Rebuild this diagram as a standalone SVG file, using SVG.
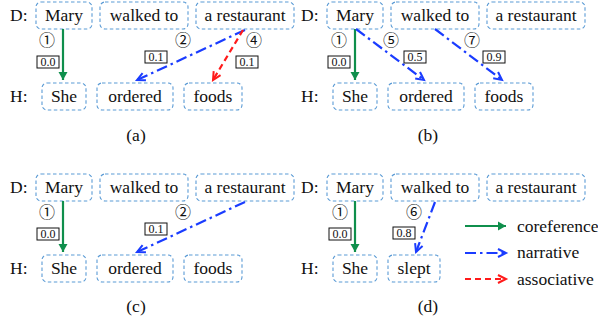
<svg xmlns="http://www.w3.org/2000/svg" width="598" height="326" viewBox="0 0 598 326">
<style>
.bx{fill:none;stroke:#5b9bd5;stroke-width:1.1;stroke-dasharray:3.5 2.5}
.t,.rl,.lg,.cap,.st{font-family:'Liberation Serif','DejaVu Serif','Times New Roman',serif;fill:#111}
.t{font-size:17.5px;text-anchor:middle}
.rl{font-size:17.5px}
.lg{font-size:17.5px}
.cap{font-size:17.5px;text-anchor:middle}
.sb{fill:#fff;stroke:#111;stroke-width:1}
.st{font-size:12px;text-anchor:middle}
.cn{font-family:'Noto Sans CJK SC','DejaVu Sans',sans-serif;font-size:16px;fill:#111;text-anchor:middle}
.co{fill:none;stroke:#0f8f4c;stroke-width:2.2}
.na{fill:none;stroke:#1a3cff;stroke-width:2.2;stroke-dasharray:11 4 2.5 4}
.as{fill:none;stroke:#ff1a1a;stroke-width:2.2;stroke-dasharray:6 4}
</style>
<defs>
<marker id="mg" markerUnits="userSpaceOnUse" markerWidth="10" markerHeight="10" refX="8" refY="4.5" orient="auto" overflow="visible">
<path d="M0,0 L8,4.5 L0,9 z" fill="#0f8f4c"/>
</marker>
<marker id="mb" markerUnits="userSpaceOnUse" markerWidth="10" markerHeight="10" refX="8" refY="4" orient="auto" overflow="visible">
<path d="M0,0 L8,4 L0,8" fill="none" stroke="#1a3cff" stroke-width="2"/>
</marker>
<marker id="mr" markerUnits="userSpaceOnUse" markerWidth="10" markerHeight="10" refX="8" refY="4" orient="auto" overflow="visible">
<path d="M0,0 L8,4 L0,8" fill="none" stroke="#ff1a1a" stroke-width="2"/>
</marker>
</defs>

<!-- Panel (a) -->
<g id="a-rowlabels"><text class="rl" x="10" y="21">D:</text><text class="rl" x="10" y="102">H:</text></g>
<g id="a-mary"><rect class="bx" x="36" y="2" width="56" height="27" rx="5"/><text class="t" x="64" y="21">Mary</text></g>
<g id="a-walked"><rect class="bx" x="100" y="2" width="88" height="27" rx="5"/><text class="t" x="144" y="21">walked to</text></g>
<g id="a-restaurant"><rect class="bx" x="196" y="2" width="98" height="27" rx="5"/><text class="t" x="245" y="21">a restaurant</text></g>
<g id="a-she"><rect class="bx" x="42" y="83" width="44" height="27" rx="5"/><text class="t" x="64" y="102">She</text></g>
<g id="a-ordered"><rect class="bx" x="97" y="83" width="76" height="27" rx="5"/><text class="t" x="135" y="102">ordered</text></g>
<g id="a-foods"><rect class="bx" x="184" y="83" width="58" height="27" rx="5"/><text class="t" x="213" y="102">foods</text></g>
<g id="a-connectors">
<line class="co" x1="63" y1="29" x2="63" y2="80" marker-end="url(#mg)"/>
<line class="na" x1="245" y1="30" x2="137" y2="80" marker-end="url(#mb)"/>
<line class="as" x1="243" y1="30" x2="213" y2="80" marker-end="url(#mr)"/>
</g>
<g id="a-labels">
<text class="cn" x="47" y="46">①</text>
<text class="cn" x="183" y="46">②</text>
<text class="cn" x="254" y="46">④</text>
<rect class="sb" x="37" y="56" width="22" height="12"/><text class="st" x="48" y="66">0.0</text>
<rect class="sb" x="145" y="51" width="22" height="12"/><text class="st" x="156" y="61">0.1</text>
<rect class="sb" x="236" y="56" width="22" height="12"/><text class="st" x="247" y="66">0.1</text>
</g>
<text class="cap" x="136" y="141">(a)</text>

<!-- Panel (b) -->
<g id="b-rowlabels"><text class="rl" x="301" y="21">D:</text><text class="rl" x="301" y="102">H:</text></g>
<g id="b-mary"><rect class="bx" x="327" y="2" width="56" height="27" rx="5"/><text class="t" x="355" y="21">Mary</text></g>
<g id="b-walked"><rect class="bx" x="391" y="2" width="88" height="27" rx="5"/><text class="t" x="435" y="21">walked to</text></g>
<g id="b-restaurant"><rect class="bx" x="487" y="2" width="98" height="27" rx="5"/><text class="t" x="536" y="21">a restaurant</text></g>
<g id="b-she"><rect class="bx" x="333" y="83" width="44" height="27" rx="5"/><text class="t" x="355" y="102">She</text></g>
<g id="b-ordered"><rect class="bx" x="388" y="83" width="76" height="27" rx="5"/><text class="t" x="426" y="102">ordered</text></g>
<g id="b-foods"><rect class="bx" x="475" y="83" width="58" height="27" rx="5"/><text class="t" x="504" y="102">foods</text></g>
<g id="b-connectors">
<line class="co" x1="355" y1="29" x2="355" y2="80" marker-end="url(#mg)"/>
<line class="na" x1="356" y1="29" x2="424" y2="80" marker-end="url(#mb)"/>
<line class="na" x1="435" y1="29" x2="502" y2="80" marker-end="url(#mb)"/>
</g>
<g id="b-labels">
<text class="cn" x="339" y="46">①</text>
<text class="cn" x="391" y="46">⑤</text>
<text class="cn" x="472" y="46">⑦</text>
<rect class="sb" x="328" y="56" width="22" height="12"/><text class="st" x="339" y="66">0.0</text>
<rect class="sb" x="404" y="51" width="22" height="12"/><text class="st" x="415" y="61">0.5</text>
<rect class="sb" x="483" y="51" width="22" height="12"/><text class="st" x="494" y="61">0.9</text>
</g>
<text class="cap" x="428" y="141">(b)</text>

<!-- Panel (c) -->
<g id="c-rowlabels"><text class="rl" x="10" y="193">D:</text><text class="rl" x="10" y="274">H:</text></g>
<g id="c-mary"><rect class="bx" x="36" y="174" width="56" height="27" rx="5"/><text class="t" x="64" y="193">Mary</text></g>
<g id="c-walked"><rect class="bx" x="100" y="174" width="88" height="27" rx="5"/><text class="t" x="144" y="193">walked to</text></g>
<g id="c-restaurant"><rect class="bx" x="196" y="174" width="98" height="27" rx="5"/><text class="t" x="245" y="193">a restaurant</text></g>
<g id="c-she"><rect class="bx" x="42" y="255" width="44" height="27" rx="5"/><text class="t" x="64" y="274">She</text></g>
<g id="c-ordered"><rect class="bx" x="97" y="255" width="76" height="27" rx="5"/><text class="t" x="135" y="274">ordered</text></g>
<g id="c-foods"><rect class="bx" x="184" y="255" width="58" height="27" rx="5"/><text class="t" x="213" y="274">foods</text></g>
<g id="c-connectors">
<line class="co" x1="63" y1="201" x2="63" y2="252" marker-end="url(#mg)"/>
<line class="na" x1="245" y1="202" x2="137" y2="252" marker-end="url(#mb)"/>
</g>
<g id="c-labels">
<text class="cn" x="47" y="218">①</text>
<text class="cn" x="183" y="218">②</text>
<rect class="sb" x="37" y="228" width="22" height="12"/><text class="st" x="48" y="238">0.0</text>
<rect class="sb" x="145" y="223" width="22" height="12"/><text class="st" x="156" y="233">0.1</text>
</g>
<text class="cap" x="136" y="312">(c)</text>

<!-- Panel (d) -->
<g id="d-rowlabels"><text class="rl" x="301" y="193">D:</text><text class="rl" x="301" y="274">H:</text></g>
<g id="d-mary"><rect class="bx" x="327" y="174" width="56" height="27" rx="5"/><text class="t" x="355" y="193">Mary</text></g>
<g id="d-walked"><rect class="bx" x="391" y="174" width="88" height="27" rx="5"/><text class="t" x="435" y="193">walked to</text></g>
<g id="d-restaurant"><rect class="bx" x="487" y="174" width="98" height="27" rx="5"/><text class="t" x="536" y="193">a restaurant</text></g>
<g id="d-she"><rect class="bx" x="333" y="255" width="44" height="27" rx="5"/><text class="t" x="355" y="274">She</text></g>
<g id="d-slept"><rect class="bx" x="388" y="255" width="52" height="27" rx="5"/><text class="t" x="414" y="274">slept</text></g>
<g id="d-connectors">
<line class="co" x1="355" y1="201" x2="355" y2="252" marker-end="url(#mg)"/>
<line class="na" x1="435" y1="202" x2="416" y2="252" marker-end="url(#mb)"/>
</g>
<g id="d-labels">
<text class="cn" x="340" y="218">①</text>
<text class="cn" x="414" y="218">⑥</text>
<rect class="sb" x="329" y="228" width="22" height="12"/><text class="st" x="340" y="238">0.0</text>
<rect class="sb" x="393" y="227" width="22" height="12"/><text class="st" x="404" y="237">0.8</text>
</g>
<text class="cap" x="428" y="312">(d)</text>

<!-- Legend -->
<g id="legend">
<line class="co" x1="465" y1="226" x2="506" y2="226" marker-end="url(#mg)"/>
<line class="na" x1="465" y1="253" x2="506" y2="253" marker-end="url(#mb)"/>
<line class="as" x1="465" y1="279" x2="506" y2="279" marker-end="url(#mr)"/>
<text class="lg" x="517" y="232">coreference</text>
<text class="lg" x="517" y="258">narrative</text>
<text class="lg" x="517" y="285">associative</text>
</g>
</svg>
